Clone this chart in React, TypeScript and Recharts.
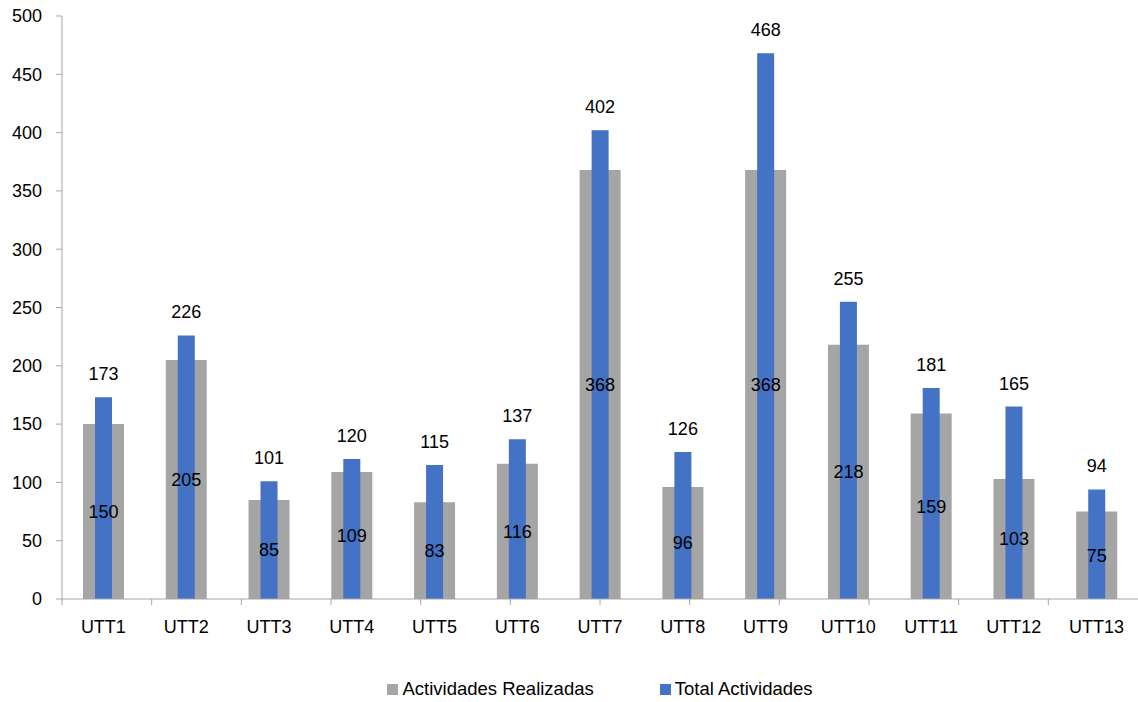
import { BarChart, Bar, XAxis, YAxis, Legend, LabelList } from 'recharts';

const categories = ['UTT1', 'UTT2', 'UTT3', 'UTT4', 'UTT5', 'UTT6', 'UTT7', 'UTT8', 'UTT9', 'UTT10', 'UTT11', 'UTT12', 'UTT13'];
const realizadas = [150, 205, 85, 109, 83, 116, 368, 96, 368, 218, 159, 103, 75];
const totales = [173, 226, 101, 120, 115, 137, 402, 126, 468, 255, 181, 165, 94];
const yTicks = [0, 50, 100, 150, 200, 250, 300, 350, 400, 450, 500];

const GRAY = '#a5a5a5';
const BLUE = '#4472c4';
const AXIS = '#a6a6a6';
const FONT = '"Liberation Sans", Arial, sans-serif';

const data = categories.map((name, i) => ({
  name,
  realizadas: realizadas[i],
  total: totales[i],
}));

// ticks del eje entre categorías (estilo Excel)
const boundaryTicks = [...categories.map((_, i) => i), categories.length];

const legendItems = [
  { label: 'Actividades Realizadas', color: GRAY },
  { label: 'Total Actividades', color: BLUE },
];

const CustomLegend = () => (
  <div
    style={{
      display: 'flex',
      justifyContent: 'center',
      gap: 66,
      paddingTop: 16,
      fontFamily: FONT,
      fontSize: 18.5,
      color: '#000',
    }}
  >
    {legendItems.map((it) => (
      <div key={it.label} style={{ display: 'flex', alignItems: 'center' }}>
        <span style={{ width: 11, height: 11, background: it.color, display: 'inline-block', marginRight: 4 }} />
        <span>{it.label}</span>
      </div>
    ))}
  </div>
);

export default function App() {
  return (
    <div style={{ position: 'absolute', left: 0, top: 0, background: '#fff' }}>
      <BarChart
        width={1138}
        height={702}
        data={data}
        margin={{ top: 16, right: 0, bottom: 0, left: 0 }}
        style={{ fontFamily: FONT }}
      >
        <XAxis
          xAxisId='bounds'
          type='number'
          domain={[0, categories.length]}
          ticks={boundaryTicks}
          tickFormatter={() => ''}
          height={1}
          stroke={AXIS}
          tickSize={6}
          allowDataOverflow
        />
        <XAxis
          xAxisId='cat'
          dataKey='name'
          axisLine={false}
          tickLine={false}
          tickSize={0}
          tickMargin={20}
          height={62}
          interval={0}
          tick={{ fill: '#000', fontSize: 18 }}
        />
        <XAxis xAxisId='cat2' dataKey='name' hide />
        <XAxis xAxisId='cat3' dataKey='name' hide />
        <YAxis
          domain={[0, 500]}
          ticks={yTicks}
          width={62}
          stroke={AXIS}
          tickSize={6}
          tickMargin={14}
          tick={{ fill: '#000', fontSize: 18 }}
        />
        <Legend
          verticalAlign='bottom'
          content={<CustomLegend />}
          wrapperStyle={{ left: 62, width: 1076, height: 40 }}
        />
        <Bar xAxisId='cat' dataKey='realizadas' name='Actividades Realizadas' fill={GRAY} barSize={41} isAnimationActive={false} />
        <Bar xAxisId='cat2' dataKey='total' name='Total Actividades' fill={BLUE} barSize={17} isAnimationActive={false}>
          <LabelList dataKey='total' position='top' offset={17} fill='#000' fontSize={18} />
        </Bar>
        <Bar xAxisId='cat3' dataKey='realizadas' fill='none' barSize={41} legendType='none' isAnimationActive={false}>
          <LabelList dataKey='realizadas' position='center' fill='#000' fontSize={18} />
        </Bar>
      </BarChart>
    </div>
  );
}
